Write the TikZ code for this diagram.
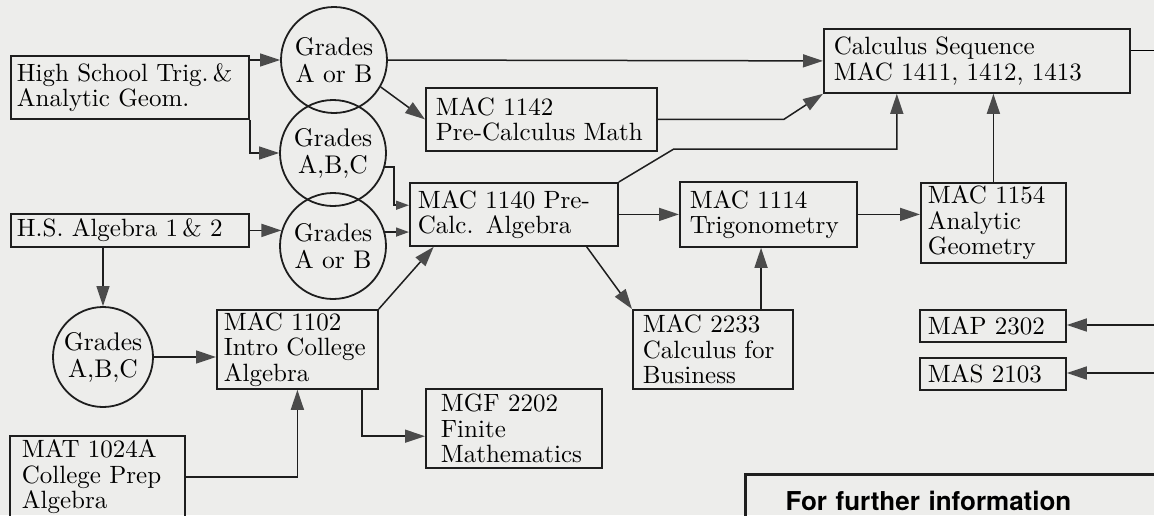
\documentclass[tikz,border=0pt]{standalone}
\usepackage{fontspec}
\setmainfont{lmroman10-regular.otf}
\newfontfamily\infofont{TeX Gyre Heros}
\usetikzlibrary{arrows.meta}

\definecolor{paper}{RGB}{237,237,235}
\definecolor{ink}{RGB}{30,30,30}

\tikzset{
  course/.style={draw=ink, line width=1.8pt, anchor=north west, align=left,
    inner xsep=8pt, inner ysep=1pt, font=\fontsize{25pt}{25.5pt}\selectfont},
  grade/.style={draw=ink, line width=1.8pt, circle, align=center, inner sep=0pt,
    font=\fontsize{25.5pt}{27pt}\selectfont},
  arr/.style={draw=ink, line width=1.5pt, -{Triangle[length=20pt, width=13pt, color=ink!80]}},
  arrsmall/.style={draw=ink, line width=1.5pt, -{Triangle[length=13pt, width=9pt, color=ink!80]}},
}

\begin{document}
\begin{tikzpicture}[x=1pt, y=-1pt]
    \useasboundingbox (0,0) rectangle (1154,515);
    \fill[paper] (0,0) rectangle (1154,515);

    % entry courses
    \node[course, inner xsep=6pt, text width=226pt, minimum height=63pt] (hstrig) at (10,55) {High School Trig.\,\&\\Analytic Geom.};
    \node[course, inner xsep=6pt, text width=226pt, minimum height=33pt] (hsalg) at (10,213) {H.S. Algebra 1\,\& 2};
    \node[course, inner xsep=12pt, text width=151pt, minimum height=82pt] (mat1024) at (9,435) {MAT 1024A\\College Prep\\Algebra};

    % grade circles
    \node[grade, minimum size=106pt] (circ1) at (334,60) {Grades\\A or B};
    \node[grade, minimum size=106pt] (circ2) at (333,153) {Grades\\A,B,C};
    \node[grade, minimum size=106pt] (circ3) at (333,246) {Grades\\A or B};
    \node[grade, minimum size=100pt] (circ4) at (103,357) {Grades\\A,B,C};

    % courses
    \node[course, inner xsep=10pt, text width=211pt, minimum height=63pt] (mac1142) at (425,87) {MAC 1142\\Pre-Calculus Math};
    \node[course, text width=192pt, minimum height=63pt] (mac1140) at (409,182) {MAC 1140 Pre-\\Calc. Algebra};
    \node[course, inner xsep=7pt, text width=147pt, minimum height=79pt] (mac1102) at (216,309) {MAC 1102\\Intro College\\Algebra};
    \node[course, inner xsep=15pt, text width=146pt, minimum height=79pt] (mgf2202) at (425,388) {MGF 2202\\Finite\\Mathematics};
    \node[course, inner xsep=10pt, text width=157pt, minimum height=65pt] (mac1114) at (679,181) {MAC 1114\\Trigonometry};
    \node[course, inner xsep=10pt, text width=140pt, minimum height=79pt] (mac2233) at (632,309) {MAC 2233\\Calculus for\\Business};
    \node[course, inner xsep=7pt, text width=131pt, minimum height=80pt] (mac1154) at (920,182) {MAC 1154\\Analytic\\Geometry};
    \node[course, inner xsep=10pt, text width=286pt, minimum height=64pt] (calcseq) at (823,28) {Calculus Sequence\\MAC 1411, 1412, 1413};
    \node[course, text width=130pt, minimum height=32pt] (map2302) at (919,309) {MAP 2302};
    \node[course, text width=130pt, minimum height=32pt] (mas2103) at (919,357) {MAS 2103};

    % info box
    \node[draw=ink, line width=3pt, anchor=north west, align=left, inner xsep=40pt, inner ysep=17pt,
      text width=420pt, font=\infofont\bfseries\fontsize{26pt}{28pt}\selectfont] (info) at (744,473) {For further information};

    % loose ends on the right
    \coordinate (calcout) at (1160,50);
    \coordinate (mapin) at (1160,325);
    \coordinate (masin) at (1160,373);

    % connectors
    \draw[arr] (hstrig.east |- circ1) -- (circ1.west);
    \draw[arr] (hstrig.south east) |- (circ2.west);
    \draw[arr] (circ1.east) -- (calcseq.west);
    \draw[arr] (circ1.-30) -- (mac1142.west);
    \draw[arr] (mac1142.east) -- ++(126,0) -- (calcseq.south west);
    \draw[arr] (mac1140.north east) -- ++(55,-33) -- ++(223,0) coordinate (bend) -- (bend |- calcseq.south);
    \draw[arr] (mac1154.north) -- (mac1154.north |- calcseq.south);
    \draw (calcout -| calcseq.east) -- (calcout);
    \draw[arr] (mapin) -- (mapin -| map2302.east);
    \draw[arr] (masin) -- (masin -| mas2103.east);
    \draw[arr] (mac1114.east) -- (mac1114.east -| mac1154.west);
    \draw[arr] (mac1140.east) -- (mac1114.west);
    \draw[arr] (mac1140.-24) -- (mac2233.north west);
    \draw[arr] (mac2233.40) -- (mac2233.40 |- mac1114.south);
    \draw[arrsmall] (circ2.-15) -- ++(9,0) |- (mac1140.175);
    \draw[arrsmall] (circ3.15) -- (circ3.15 -| mac1140.west);
    \draw[arr] (hsalg.east) -- (hsalg.east -| circ3.163);
    \draw[arr] (mac1102.north east) -- (mac1140.202);
    \draw[arr] (circ4 |- hsalg.south) -- (circ4.north);
    \draw[arr] (circ4.east) -- (circ4.east -| mac1102.west);
    \draw[arr] (mat1024.east) -| (mac1102.south);
    \draw[arr] (mac1102.-32) |- (mgf2202.185);
\end{tikzpicture}
\end{document}
